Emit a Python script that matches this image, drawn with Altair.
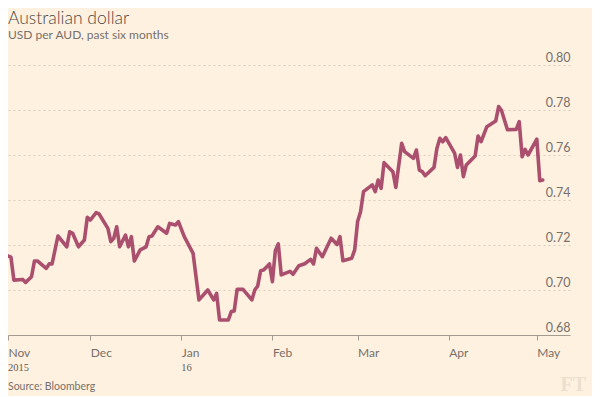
import altair as alt
import pandas as pd

# ---- data ----
dates = [
    "2015-11-03", "2015-11-04", "2015-11-05", "2015-11-08", "2015-11-09", "2015-11-11",
    "2015-11-12", "2015-11-13", "2015-11-16", "2015-11-17", "2015-11-18", "2015-11-20",
    "2015-11-23", "2015-11-24", "2015-11-25", "2015-11-27", "2015-11-29", "2015-11-30",
    "2015-12-01", "2015-12-03", "2015-12-04", "2015-12-07", "2015-12-08", "2015-12-09",
    "2015-12-10", "2015-12-11", "2015-12-13", "2015-12-14", "2015-12-15", "2015-12-16",
    "2015-12-18", "2015-12-20", "2015-12-21", "2015-12-22", "2015-12-24", "2015-12-27",
    "2015-12-28", "2015-12-30", "2015-12-31", "2016-01-02", "2016-01-05", "2016-01-06",
    "2016-01-07", "2016-01-10", "2016-01-12", "2016-01-13", "2016-01-14", "2016-01-17",
    "2016-01-18", "2016-01-19", "2016-01-20", "2016-01-22", "2016-01-25", "2016-01-26",
    "2016-01-27", "2016-01-28", "2016-01-29", "2016-01-31", "2016-02-01", "2016-02-02",
    "2016-02-03", "2016-02-04", "2016-02-07", "2016-02-08", "2016-02-10", "2016-02-12",
    "2016-02-14", "2016-02-15", "2016-02-16", "2016-02-18", "2016-02-21", "2016-02-23",
    "2016-02-24", "2016-02-25", "2016-02-28", "2016-02-29", "2016-03-01", "2016-03-02",
    "2016-03-03", "2016-03-06", "2016-03-07", "2016-03-08", "2016-03-09", "2016-03-10",
    "2016-03-13", "2016-03-14", "2016-03-16", "2016-03-17", "2016-03-20", "2016-03-21",
    "2016-03-22", "2016-03-23", "2016-03-24", "2016-03-27", "2016-03-28", "2016-03-29",
    "2016-03-30", "2016-03-31", "2016-04-03", "2016-04-04", "2016-04-05", "2016-04-06",
    "2016-04-07", "2016-04-10", "2016-04-11", "2016-04-12", "2016-04-14", "2016-04-17",
    "2016-04-18", "2016-04-19", "2016-04-21", "2016-04-24", "2016-04-25", "2016-04-26",
    "2016-04-27", "2016-04-28", "2016-05-01", "2016-05-02", "2016-05-03",
]
usd_per_aud = [
    0.7151, 0.7146, 0.7044, 0.7047, 0.7034, 0.7059,
    0.7129, 0.7129, 0.7096, 0.7116, 0.7116, 0.7240,
    0.7192, 0.7259, 0.7252, 0.7192, 0.7222, 0.7323,
    0.7311, 0.7344, 0.7338, 0.7274, 0.7215, 0.7230,
    0.7281, 0.7192, 0.7244, 0.7192, 0.7237, 0.7129,
    0.7178, 0.7192, 0.7237, 0.7240, 0.7281, 0.7252,
    0.7296, 0.7289, 0.7304, 0.7237, 0.7163, 0.7059,
    0.6956, 0.7000, 0.6956, 0.6985, 0.6867, 0.6867,
    0.6904, 0.6907, 0.7003, 0.7003, 0.6956, 0.7000,
    0.7018, 0.7086, 0.7089, 0.7116, 0.7037, 0.7175,
    0.7205, 0.7067, 0.7083, 0.7070, 0.7108, 0.7117,
    0.7136, 0.7116, 0.7185, 0.7148, 0.7230, 0.7202,
    0.7237, 0.7130, 0.7141, 0.7178, 0.7304, 0.7348,
    0.7437, 0.7467, 0.7437, 0.7489, 0.7452, 0.7566,
    0.7526, 0.7456, 0.7652, 0.7615, 0.7585, 0.7622,
    0.7533, 0.7526, 0.7508, 0.7545, 0.7630, 0.7674,
    0.7659, 0.7677, 0.7608, 0.7545, 0.7600, 0.7504,
    0.7556, 0.7596, 0.7684, 0.7659, 0.7726, 0.7751,
    0.7815, 0.7797, 0.7712, 0.7714, 0.7748, 0.7592,
    0.7625, 0.7600, 0.7670, 0.7486, 0.7489,
]
month_ticks = [(2015, 11, 3), (2015, 12, 1), (2016, 1, 1), (2016, 2, 1),
               (2016, 3, 1), (2016, 4, 1), (2016, 5, 1)]
year_dates = ["2015-11-03", "2016-01-01"]
year_labels = ["2015", "16"]
y_ticks = [0.68, 0.70, 0.72, 0.74, 0.76, 0.78, 0.80]

title_text = "Australian dollar"
subtitle_text = "USD per AUD, past six months"
source_text = "Source: Bloomberg"
logo_text = "FT"

# ---- styling ----
BG = "#fff1e0"
LINE = "#aa4f6d"
TEXT = "#76706a"
SANS = "Lato"
W, H = 562, 270

x_domain = [alt.DateTime(year=2015, month=11, date=3),
            alt.DateTime(year=2016, month=5, date=12, hours=7)]
x_scale = alt.Scale(domain=x_domain)

x_axis = alt.Axis(
    values=[alt.DateTime(year=a, month=b, date=c) for a, b, c in month_ticks],
    labelExpr="timeFormat(datum.value, '%b')",
    title=None, grid=False,
    domainColor="#a39a90", tickColor="#a39a90", tickSize=5,
    labelAlign="left", labelBaseline="alphabetic", labelPadding=16,
    labelFlush=False, labelOverlap=False,
    labelFont=SANS, labelFontSize=12, labelColor=TEXT,
)

df = pd.DataFrame({"date": pd.to_datetime(dates), "aud": usd_per_aud})
years_df = pd.DataFrame({"date": pd.to_datetime(year_dates), "label": year_labels})

line = alt.Chart(df).mark_line(
    color=LINE, strokeWidth=3.6, strokeJoin="round", strokeCap="round"
).encode(
    x=alt.X("date:T", scale=x_scale, axis=x_axis),
    y=alt.Y("aud:Q", scale=alt.Scale(domain=[0.68, 0.80], nice=False, zero=False),
            axis=alt.Axis(
                orient="right", values=y_ticks, format=".2f", title=None,
                domain=False, ticks=False, tickSize=0,
                grid=True, gridDash=[2, 3], gridColor="#d8ccbd", gridWidth=1,
                labelAlign="right", labelBaseline="alphabetic",
                labelOffset=-4, labelPadding=0, labelFlush=False,
                labelFont=SANS, labelFontSize=12.5, labelColor=TEXT,
            )),
)

years = alt.Chart(years_df).mark_text(
    align="left", baseline="alphabetic", font="Liberation Serif",
    fontSize=10.5, color="#5f5a55"
).encode(
    x=alt.X("date:T", scale=x_scale, axis=x_axis),
    y=alt.value(306),
    text="label:N",
)


def label(text, x, y, **kw):
    return alt.Chart(pd.DataFrame({"t": [text]})).mark_text(
        baseline="alphabetic", **kw
    ).encode(x=alt.value(x), y=alt.value(y), text="t:N")


title = label(title_text, 0, -41, align="left", font=SANS, fontSize=17.5,
              fontWeight=300, color="#4a4541")
subtitle = label(subtitle_text, 0, -26, align="left", font=SANS, fontSize=12, color=TEXT)
source = label(source_text, 0, 325, align="left", font=SANS, fontSize=10.5, color=TEXT)
logo = label(logo_text, 578, 326, align="right", font="Liberation Serif",
             fontSize=20, fontWeight="bold", color="#ecdfcf")

chart = alt.layer(line, years, title, subtitle, source, logo).properties(
    width=W, height=H,
    padding={"left": 0, "top": 57, "right": 22, "bottom": 61},
    autosize=alt.AutoSizeParams(type="none"),
    background=BG,
).configure_view(stroke=None)

chart.save("out.html", embed_options={"renderer": "svg", "actions": False})
